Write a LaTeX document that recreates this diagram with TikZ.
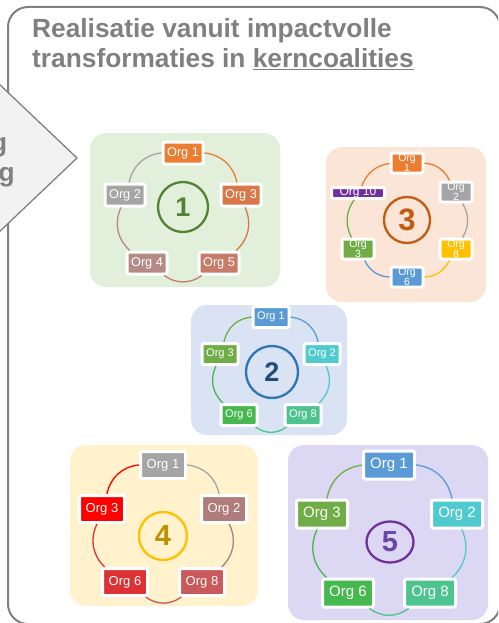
\documentclass[tikz,border=0pt]{standalone}
\usepackage{fontspec}
\setmainfont{Liberation Sans}
\setsansfont{Liberation Sans}
\usepackage{xcolor}
\usepackage{tikz}
\usetikzlibrary{calc,positioning,shapes.geometric}

\definecolor{framegray}{HTML}{808080}
\definecolor{chevfill}{HTML}{F2F2F2}
\definecolor{panegreen}{HTML}{E2EFDA}
\definecolor{panepeach}{HTML}{FBE5D6}
\definecolor{paneblue}{HTML}{DAE3F3}
\definecolor{paneyellow}{HTML}{FFF2CC}
\definecolor{panelilac}{HTML}{DCD7F2}
\definecolor{orange}{HTML}{ED7D31}
\definecolor{lgray}{HTML}{A5A5A5}
\definecolor{rust}{HTML}{DA7748}
\definecolor{mauve}{HTML}{B48A87}
\definecolor{clay}{HTML}{C77B69}
\definecolor{sky}{HTML}{5B9BD5}
\definecolor{teal}{HTML}{4FCACF}
\definecolor{mint}{HTML}{4DC48F}
\definecolor{leaf}{HTML}{45B94E}
\definecolor{olive}{HTML}{70AD47}
\definecolor{gold}{HTML}{FFC000}
\definecolor{plum}{HTML}{7030A0}
\definecolor{rose}{HTML}{B07C7C}
\definecolor{brick}{HTML}{C9595B}
\definecolor{crimson}{HTML}{DC3236}
\definecolor{signal}{HTML}{FF0000}

\begin{document}
\begin{tikzpicture}[
    x=1pt, y=-1pt,
    frame/.style={draw=framegray, line width=2pt, rounded corners=20pt},
    chevron/.style={draw=framegray, fill=chevfill, line width=1.3pt, line join=miter},
    headline/.style={anchor=base west, inner sep=0, text=framegray, font=\fontsize{26.3}{30}\selectfont\bfseries},
    pane/.style={rounded corners=16pt},
    org/.style={rectangle, rounded corners=2pt, draw=white, line width=3pt, text=white, inner sep=0pt, align=center},
    orgI/.style={org, minimum width=40pt, minimum height=22pt, font=\fontsize{12.7}{13}\selectfont},
    orgII/.style={org, minimum width=36pt, minimum height=21pt, font=\fontsize{11}{11}\selectfont},
    orgIII/.style={org, minimum width=32pt, minimum height=20pt, font=\fontsize{10.5}{10}\selectfont},
    orgIV/.style={org, minimum width=45pt, minimum height=27pt, font=\fontsize{13}{13}\selectfont},
    orgV/.style={org, minimum width=51pt, minimum height=28pt, font=\fontsize{15}{15}\selectfont},
    ring/.style={line width=1.3pt},
    numring/.style={circle, line width=2.3pt, inner sep=0pt, font=\bfseries}
]
\useasboundingbox (0,0) rectangle (498,623);
\clip (0,0) rectangle (498,623);

% outer frame and chevron
\draw[frame] (8,7) rectangle (500,624);
\draw[chevron] (-3,82) -- (77,158) -- (-3,234);
\node[headline, anchor=base east] (chevA) at (7.5,151) {g};
\node[headline, anchor=base east] (chevB) at (15,181) {g};

% title
\node[headline] (titleA) at (32,38) {Realisatie vanuit impactvolle};
\node[headline] (titleB) at (32,68) {transformaties in \underline{kerncoalities}};

% coalition 1
\fill[pane, panegreen] (90,133) rectangle (280,287);
\node[numring, draw={rgb,255:red,84;green,130;blue,53}, text={rgb,255:red,84;green,130;blue,53}, minimum size=50pt, font=\fontsize{27}{27}\selectfont\bfseries] (num1) at (183,207) {1};
\node[orgI, fill=orange] (c1o1) at (183,153) {Org 1};
\node[orgI, fill=lgray] (c1o2) at (125,195) {Org 2};
\node[orgI, fill=rust] (c1o3) at (241,195) {Org 3};
\node[orgI, fill=mauve] (c1o4) at (147,263) {Org 4};
\node[orgI, fill=clay] (c1o5) at (219,263) {Org 5};
\draw[ring, orange] (c1o1) to[bend left=36] (c1o3);
\draw[ring, rust] (c1o3) to[bend left=36] (c1o5);
\draw[ring, clay] (c1o5) to[bend left=36] (c1o4);
\draw[ring, mauve] (c1o4) to[bend left=36] (c1o2);
\draw[ring, lgray] (c1o2) to[bend left=36] (c1o1);

% coalition 3
\fill[pane, panepeach] (326,147) rectangle (486,302);
\node[numring, draw={rgb,255:red,197;green,90;blue,17}, text={rgb,255:red,197;green,90;blue,17}, minimum size=46pt, font=\fontsize{31}{31}\selectfont\bfseries] (num3) at (407,220) {3};
\node[orgIII, fill=orange] (c3o1) at (407,163) {Org\\1};
\node[orgIII, fill=lgray] (c3o2) at (456,192) {Org\\2};
\node[orgIII, fill=gold] (c3o8) at (456,249) {Org\\8};
\node[orgIII, fill=sky] (c3o6) at (407,277) {Org\\6};
\node[orgIII, fill=olive] (c3o3) at (358,249) {Org\\3};
\node[org, fill=plum, minimum width=53pt, minimum height=11pt, font=\fontsize{12}{12}\selectfont] (c3o10) at (358,193) {Org 10};
\draw[ring, orange] (c3o1) to[bend left=30] (c3o2);
\draw[ring, lgray] (c3o2) to[bend left=30] (c3o8);
\draw[ring, gold] (c3o8) to[bend left=30] (c3o6);
\draw[ring, sky] (c3o6) to[bend left=30] (c3o3);
\draw[ring, olive] (c3o3) to[bend left=30] (c3o10);
\draw[ring, orange] (c3o10) to[bend left=30] (c3o1);

% coalition 2
\fill[pane, paneblue] (191,305) rectangle (347,435);
\node[numring, draw={rgb,255:red,46;green,117;blue,182}, text={rgb,255:red,31;green,78;blue,121}, minimum size=52pt, font=\fontsize{27}{27}\selectfont\bfseries] (num2) at (272,372) {2};
\node[orgII, fill=sky] (c2o1) at (271,317) {Org 1};
\node[orgII, fill=teal] (c2o2) at (322,354) {Org 2};
\node[orgII, fill=mint] (c2o8) at (303,415) {Org 8};
\node[orgII, fill=leaf] (c2o6) at (239,415) {Org 6};
\node[orgII, fill=olive] (c2o3) at (220,354) {Org 3};
\draw[ring, sky] (c2o1) to[bend left=36] (c2o2);
\draw[ring, teal] (c2o2) to[bend left=36] (c2o8);
\draw[ring, mint] (c2o8) to[bend left=36] (c2o6);
\draw[ring, leaf] (c2o6) to[bend left=36] (c2o3);
\draw[ring, olive] (c2o3) to[bend left=36] (c2o1);

% coalition 4
\fill[pane, paneyellow] (70,445) rectangle (258,606);
\node[numring, draw=gold, text={rgb,255:red,191;green,144;blue,0}, minimum size=48pt, font=\fontsize{29}{29}\selectfont\bfseries] (num4) at (163,536) {4};
\node[orgIV, fill=lgray] (c4o1) at (163,465) {Org 1};
\node[orgIV, fill=rose] (c4o2) at (224,509) {Org 2};
\node[orgIV, fill=brick] (c4o8) at (202,582) {Org 8};
\node[orgIV, fill=crimson] (c4o6) at (125,582) {Org 6};
\node[orgIV, fill=signal] (c4o3) at (102,509) {Org 3};
\draw[ring, lgray] (c4o1) to[bend left=36] (c4o2);
\draw[ring, rose] (c4o2) to[bend left=36] (c4o8);
\draw[ring, brick] (c4o8) to[bend left=36] (c4o6);
\draw[ring, crimson] (c4o6) to[bend left=36] (c4o3);
\draw[ring, signal] (c4o3) to[bend left=36] (c4o1);

% coalition 5
\fill[pane, panelilac] (288,445) rectangle (488,620);
\node[numring, ellipse, draw=plum, text={rgb,255:red,107;green,70;blue,166}, minimum width=47pt, minimum height=41pt, font=\fontsize{29}{29}\selectfont\bfseries] (num5) at (390,542) {5};
\node[orgV, fill=sky] (c5o1) at (389,465) {Org 1};
\node[orgV, fill=teal] (c5o2) at (457,514) {Org 2};
\node[orgV, fill=mint] (c5o8) at (430,593) {Org 8};
\node[orgV, fill=leaf] (c5o6) at (348,593) {Org 6};
\node[orgV, fill=olive] (c5o3) at (322,514) {Org 3};
\draw[ring, sky] (c5o1) to[bend left=36] (c5o2);
\draw[ring, teal] (c5o2) to[bend left=36] (c5o8);
\draw[ring, mint] (c5o8) to[bend left=36] (c5o6);
\draw[ring, leaf] (c5o6) to[bend left=36] (c5o3);
\draw[ring, olive] (c5o3) to[bend left=36] (c5o1);

\end{tikzpicture}
\end{document}
